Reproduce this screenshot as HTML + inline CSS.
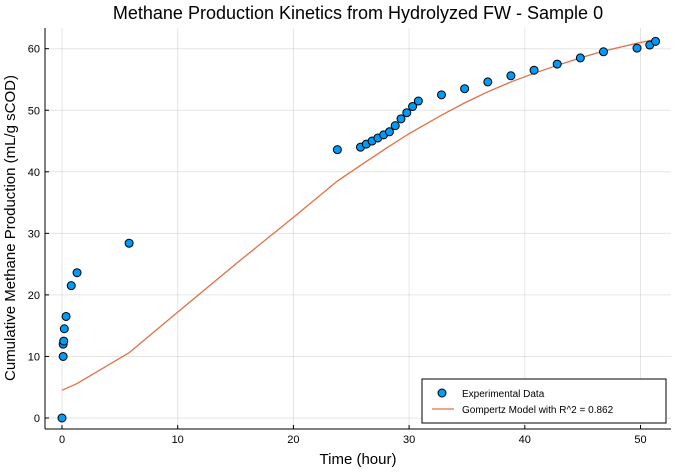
<!DOCTYPE html>
<html><head><meta charset="utf-8"><style>
body{margin:0;background:#fff;}
svg{font-family:"Liberation Sans",sans-serif;}
</style></head><body>
<svg id="chart" width="700" height="470">
<rect width="700" height="470" fill="#fff"/>
<text x="358" y="19" text-anchor="middle" font-size="18" fill="#000">Methane Production Kinetics from Hydrolyzed FW - Sample 0</text>
<g id="grid"></g>
<rect x="45" y="28" width="626" height="401" fill="none" stroke="none"/>
<line x1="45" y1="429" x2="671" y2="429" stroke="#000"/>
<line x1="45" y1="28" x2="45" y2="429" stroke="#000"/>
<g id="ticks"></g>
<text x="358" y="464" text-anchor="middle" font-size="15">Time (hour)</text>
<text transform="translate(15,228) rotate(-90)" text-anchor="middle" font-size="15">Cumulative Methane Production (mL/g sCOD)</text>
<g id="series"></g>
<g>
<rect x="422" y="379" width="244" height="44" fill="#fff" stroke="#000"/>
<circle cx="442" cy="393" r="4" fill="#009af9" stroke="#000"/>
<text x="462" y="397" font-size="10">Experimental Data</text>
<line x1="432" y1="409" x2="454" y2="409" stroke="#e26f46" stroke-width="1.3"/>
<text x="462" y="413" font-size="10">Gompertz Model with R^2 = 0.862</text>
</g>
</svg>
<script>
const obsTime=[0,0.1,0.1,0.15,0.2,0.35,0.8,1.3,5.8,23.8,25.8,26.3,26.8,27.3,27.8,28.3,28.8,29.3,29.8,30.3,30.8,32.8,34.8,36.8,38.8,40.8,42.8,44.8,46.8,49.7,50.8,51.3];
const obsValue=[0,10,12,12.5,14.5,16.5,21.5,23.6,28.4,43.6,44,44.5,45,45.5,46,46.5,47.5,48.6,49.6,50.6,51.5,52.5,53.5,54.6,55.6,56.5,57.5,58.5,59.5,60.1,60.6,61.2];
const fitTime=[0,1.3,5.8,10,15,20,23.8,26,28,30,32.8,34.8,36.8,38.8,40.8,42.8,44.8,46.8,49.7,51.3];
const fitValue=[4.5,5.6,10.6,17.2,25,32.6,38.5,41.3,43.8,46.2,49.2,51.2,53,54.6,56,57.3,58.5,59.6,60.9,61.5];
const xTicks=[0,10,20,30,40,50];
const yTicks=[0,10,20,30,40,50,60];
const NS="http://www.w3.org/2000/svg";
const xs=v=>62+v*11.57;
const ys=v=>418-v*6.155;
function mk(tag,attrs,parent){const e=document.createElementNS(NS,tag);for(const k in attrs)e.setAttribute(k,attrs[k]);parent.appendChild(e);return e;}
const grid=document.getElementById('grid'),ticks=document.getElementById('ticks'),series=document.getElementById('series');
xTicks.forEach(t=>{
 const g=mk('line',{x1:xs(t),x2:xs(t),y1:28,y2:429,stroke:'#000','stroke-opacity':0.1},grid);
 
 
 mk('line',{x1:xs(t),x2:xs(t),y1:429,y2:425,stroke:'#000'},ticks);
 const l=mk('text',{x:xs(t),y:443,'text-anchor':'middle','font-size':11},ticks);
 l.textContent=t;
 
 
});
yTicks.forEach(t=>{
 const g=mk('line',{x1:45,x2:671,y1:ys(t),y2:ys(t),stroke:'#000','stroke-opacity':0.1},grid);
 
 
 mk('line',{x1:45,x2:49,y1:ys(t),y2:ys(t),stroke:'#000'},ticks);
 const l=mk('text',{x:40,y:ys(t)+4,'text-anchor':'end','font-size':11},ticks);
 l.textContent=t;
 
 
});
const pl=mk('polyline',{points:fitTime.map((t,i)=>xs(t)+','+ys(fitValue[i])).join(' '),fill:'none',stroke:'#e26f46','stroke-width':1.3},series);


obsTime.forEach((t,i)=>{
 const c=mk('circle',{cx:xs(t),cy:ys(obsValue[i]),r:4,fill:'#009af9',stroke:'#000','stroke-width':1},series);
 
 
});
</script>
</body></html>
